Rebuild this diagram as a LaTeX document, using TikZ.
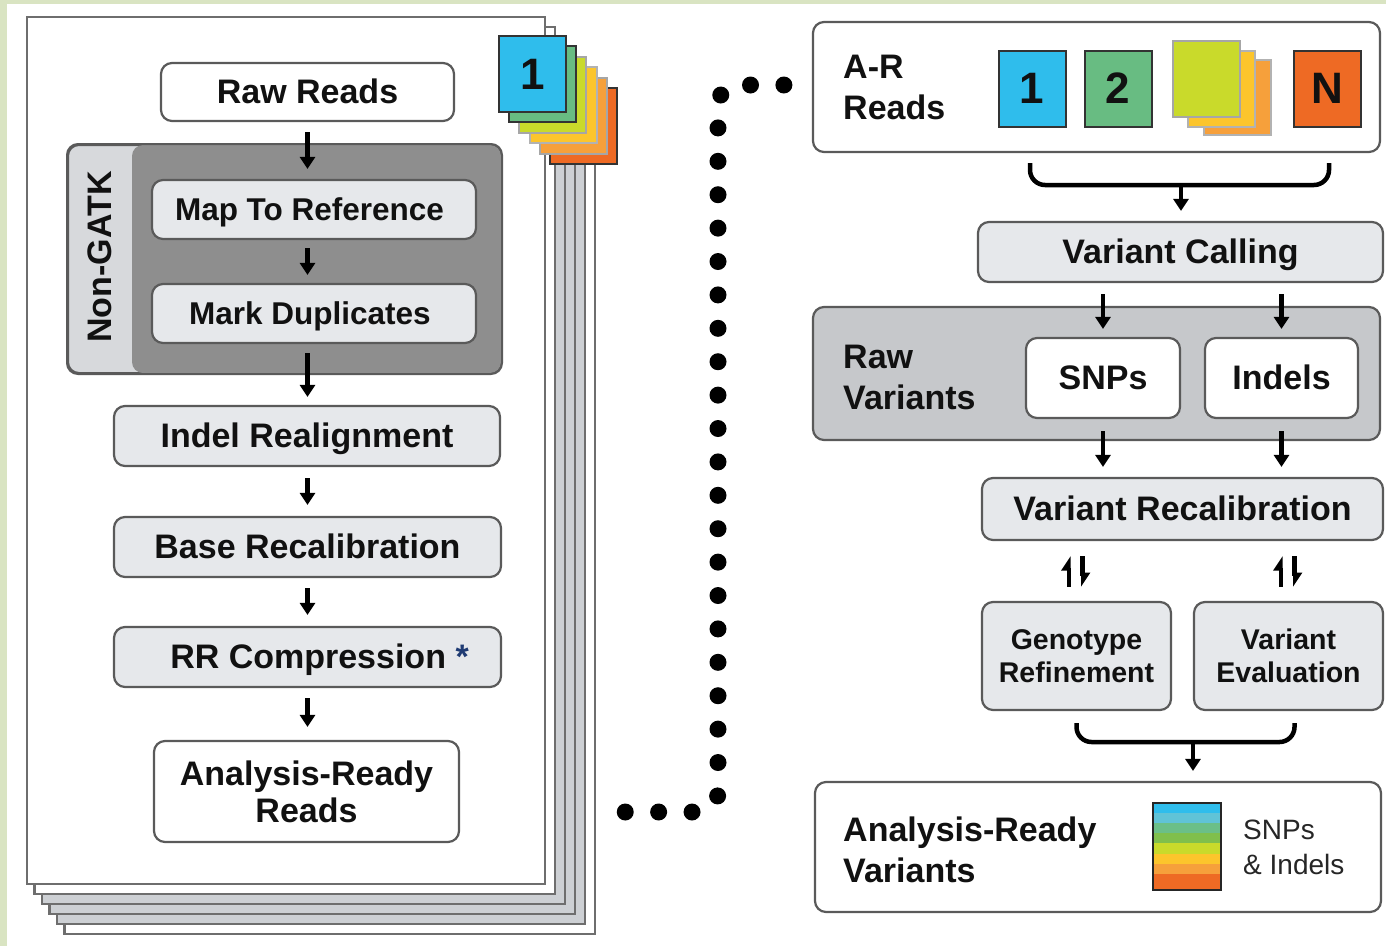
\documentclass[tikz,border=0pt]{standalone}
\usepackage{fontspec}
\setmainfont{Liberation Sans}
\usetikzlibrary{arrows.meta,calc}
\definecolor{bggreen}{HTML}{D9E4C2}
\definecolor{boxline}{HTML}{5A5A5A}
\definecolor{lightbox}{HTML}{E6E8EB}
\definecolor{nglight}{HTML}{D7D9DC}
\definecolor{ngdark}{HTML}{8E8E8E}
\definecolor{rvgray}{HTML}{C6C8CB}
\definecolor{pagegray}{HTML}{CDD0D4}
\definecolor{pageline}{HTML}{6E6E6E}
\definecolor{txt}{HTML}{111111}
\definecolor{navy}{HTML}{1F3B73}
\definecolor{cblue}{HTML}{2FBDEC}
\definecolor{cgreen}{HTML}{68BC82}
\definecolor{cyg}{HTML}{C9DA2B}
\definecolor{cyellow}{HTML}{FCC52C}
\definecolor{corange}{HTML}{F6A03B}
\definecolor{cred}{HTML}{EE6A24}
\definecolor{clblue}{HTML}{60C3D7}
\definecolor{cteal}{HTML}{6BBF88}
\definecolor{cgr2}{HTML}{80BF4C}
\begin{document}
\begin{tikzpicture}[x=1pt,y=-1pt,
  box/.style={draw=boxline, line width=2.2pt, rounded corners=11pt, inner sep=0pt, align=center, text=txt},
  wbox/.style={box, fill=white},
  lbox/.style={box, fill=lightbox},
  fbig/.style={font=\fontsize{34}{41}\selectfont\bfseries},
  fmid/.style={font=\fontsize{31.5}{38}\selectfont\bfseries},
  fsmall/.style={font=\fontsize{28.5}{33}\selectfont\bfseries},
  fdigit/.style={font=\fontsize{44}{44}\selectfont\bfseries},
  onebig/.style={text height=23.4pt, text depth=0pt},
  onemid/.style={text height=21.7pt, text depth=0pt},
  lab/.style={anchor=west, align=left, inner sep=0pt, text=txt},
  arr/.style={line width=4.5pt, draw=black, -{Triangle[width=15pt,length=12pt]}},
  harp/.style={line width=4.5pt, draw=black, -{Triangle[width=15pt,length=12pt,harpoon]}},
  brace/.style={line width=4.5pt, draw=black, rounded corners=15pt},
  page/.style={draw=pageline, line width=2.2pt},
  sq/.style={minimum width=67pt, minimum height=76pt, inner sep=0pt, line width=2pt, text=txt},
  dotline/.style={line width=17pt, line cap=round, dash pattern=on 0pt off 33.4pt}
]
\useasboundingbox (0,0) rectangle (1386,946);
\fill[bggreen] (0,0) rectangle (1386,946);
\fill[white] (7,4) rectangle (1386,946);

% ---- page stack
\foreach \i/\c in {5/white,4/pagegray,3/pagegray,2/pagegray,1/white}{
  \draw[page, fill=\c] (27+7.5*\i, 17+10*\i) rectangle (545+10*\i, 884+10*\i);
}
\node[page, fill=white, minimum width=518pt, minimum height=867pt, inner sep=0pt] (sample) at (286,450.5) {};

% ---- flags
\foreach \i/\c/\d in {5/cred/black!80,4/corange/black!35,3/cyellow/black!30,2/cyg/black!35,1/cgreen/black!80}{
  \draw[fill=\c, draw=\d, line width=2pt] (499+10.2*\i, 36+10.4*\i) rectangle (566+10.2*\i, 112+10.4*\i);
}
\node[sq, draw=black!80, fill=cblue, fdigit] (flag1) at (532.5,74) {1};

% ---- left workflow
\node[wbox, fbig, onebig, minimum width=293pt, minimum height=58pt] (raw) at (307.5,92) {Raw Reads};
\node[draw=boxline, fill=nglight, line width=2pt, rounded corners=11pt, minimum width=433pt, minimum height=228pt, inner sep=0pt] (ng) at (284.5,259) {};
\begin{scope}
  \clip[rounded corners=11pt] (68,145) rectangle (501,373);
  \fill[ngdark, rounded corners=11pt] (132,145) rectangle (530,373);
\end{scope}
\draw[boxline, line width=2pt, rounded corners=11pt] (ng.north west) rectangle (ng.south east);
\node[fbig, rotate=90, text=txt] (nglabel) at (100,257) {Non-GATK};
\node[lbox, fmid, onemid, minimum width=324pt, minimum height=59pt] (map) at (314,209.5) {\hspace*{-9pt}Map To Reference};
\node[lbox, fmid, onemid, minimum width=324pt, minimum height=59pt] (dup) at (314,313.5) {\hspace*{-8pt}Mark Duplicates};
\node[lbox, fbig, onebig, minimum width=386pt, minimum height=60pt] (indel) at (307,436) {Indel Realignment};
\node[lbox, fbig, onebig, minimum width=387pt, minimum height=60pt] (bqsr) at (307.5,547) {Base Recalibration};
\node[lbox, fbig, onebig, minimum width=387pt, minimum height=60pt] (rr) at (307.5,657) {\hspace*{24pt}RR Compression \textcolor{navy}{*}};
\node[wbox, fbig, minimum width=305pt, minimum height=101pt, font=\fontsize{34}{37}\selectfont\bfseries] (arr) at (306.5,791.5) {Analysis-Ready\\Reads};

\draw[arr] ($(raw.south)+(0,10)$) -- ($(map.north -| raw.south)+(0,-10)$);
\draw[arr] ($(map.south -| raw.south)+(0,8)$) -- ($(dup.north -| raw.south)+(0,-8)$);
\draw[arr] ($(dup.south -| raw.south)+(0,9)$) -- ($(indel.north -| raw.south)+(0,-8)$);
\draw[arr] ($(indel.south -| raw.south)+(0,11)$) -- ($(bqsr.north -| raw.south)+(0,-11)$);
\draw[arr] ($(bqsr.south -| raw.south)+(0,10)$) -- ($(rr.north -| raw.south)+(0,-11)$);
\draw[arr] ($(rr.south -| raw.south)+(0,10)$) -- ($(arr.north -| raw.south)+(0,-13)$);

% ---- right workflow
\node[wbox, minimum width=567pt, minimum height=130pt] (ar) at (1096.5,87) {};
\node[lab, fbig] (arlabel) at (843,87.5) {A-R\\Reads};
\node[sq, draw=black!80, fill=cblue, fdigit] (s1) at (1032,88.5) {1};
\node[sq, draw=black!80, fill=cgreen, fdigit] (s2) at (1118,88.5) {2};
\draw[fill=corange, draw=black!30, line width=2pt] (1204,60) rectangle (1271,135);
\draw[fill=cyellow, draw=black!30, line width=2pt] (1188,51) rectangle (1255,127);
\node[sq, draw=black!35, fill=cyg] (s3) at (1206,79) {};
\node[sq, draw=black!80, fill=cred, fdigit] (sN) at (1327,88.5) {N};

\coordinate (b1l) at (1030,163);
\coordinate (b1r) at (1329,163);
\coordinate (b1m) at (1181,185);
\draw[brace] (b1l) |- (b1m) -| (b1r);

\node[lbox, fbig, onebig, minimum width=405pt, minimum height=60pt] (vc) at (1180.5,252) {Variant Calling};
\draw[arr] (b1m) -- ($(vc.north -| b1m)+(0,-10)$);

\node[box, fill=rvgray, minimum width=567pt, minimum height=133pt] (rv) at (1096.5,373.5) {};
\node[lab, fbig] (rvlabel) at (843,377.5) {Raw\\Variants};
\node[wbox, fbig, onebig, minimum width=154pt, minimum height=80pt] (snps) at (1103,378) {SNPs};
\node[wbox, fbig, onebig, minimum width=153pt, minimum height=80pt] (indels) at (1281.5,378) {Indels};

\draw[arr] ($(snps.north |- vc.south)+(0,11)$) -- ($(snps.north)+(0,-8)$);
\draw[arr] ($(indels.north |- vc.south)+(0,11)$) -- ($(indels.north)+(0,-8)$);

\node[lbox, fbig, onebig, minimum width=401pt, minimum height=62pt] (vr) at (1182.5,509) {Variant Recalibration};
\draw[arr] ($(snps.south)+(0,12)$) -- ($(vr.north -| snps.south)+(0,-10)$);
\draw[arr] ($(indels.south)+(0,12)$) -- ($(vr.north -| indels.south)+(0,-10)$);

\node[lbox, fsmall, minimum width=189pt, minimum height=108pt] (gr) at (1076.5,656) {Genotype\\Refinement};
\node[lbox, fsmall, minimum width=189pt, minimum height=108pt] (ve) at (1288.5,656) {Variant\\Evaluation};

\draw[harp] ($(gr.north)+(-7.5,-14)$) -- ($(vr.south -| gr.north)+(-7.5,15)$);
\draw[harp] ($(vr.south -| gr.north)+(6,15)$) -- ($(gr.north)+(6,-14)$);
\draw[harp] ($(ve.north)+(-7.5,-14)$) -- ($(vr.south -| ve.north)+(-7.5,15)$);
\draw[harp] ($(vr.south -| ve.north)+(6,15)$) -- ($(ve.north)+(6,-14)$);

\coordinate (b2l) at ($(gr.south)+(0,12)$);
\coordinate (b2r) at ($(ve.south)+(6,12)$);
\coordinate (b2m) at (1193,742);
\draw[brace] (b2l) |- (b2m) -| (b2r);

\node[wbox, minimum width=566pt, minimum height=130pt] (arv) at (1098,847) {};
\draw[arr] (b2m) -- ($(arv.north -| b2m)+(0,-10)$);
\node[lab, fbig] (arvlabel) at (843,850) {Analysis-Ready\\Variants};

% gradient bar
\fill[cblue] (1153,803) rectangle (1221,813);
\fill[clblue] (1153,813) rectangle (1221,823);
\fill[cteal] (1153,823) rectangle (1221,833);
\fill[cgr2] (1153,833) rectangle (1221,843);
\fill[cyg] (1153,843) rectangle (1221,854);
\fill[cyellow] (1153,854) rectangle (1221,864);
\fill[corange] (1153,864) rectangle (1221,874);
\fill[cred] (1153,874) rectangle (1221,890);
\node[draw=black!85, line width=2.2pt, minimum width=68pt, minimum height=87pt, inner sep=0pt] (bar) at (1187,846.5) {};
\node[lab, text=black!85, font=\fontsize{28}{35}\selectfont] (barlabel) at (1243,847.5) {SNPs\\\& Indels};

% ---- dotted connector
\coordinate (dA) at ($(ar.west)+(-28,-2)$);
\coordinate (dC) at (718,812);
\coordinate (dB) at (624,812);
\draw[dotline, rounded corners=20pt] (dA) -| (dC) -- (dB);
\end{tikzpicture}
\end{document}
